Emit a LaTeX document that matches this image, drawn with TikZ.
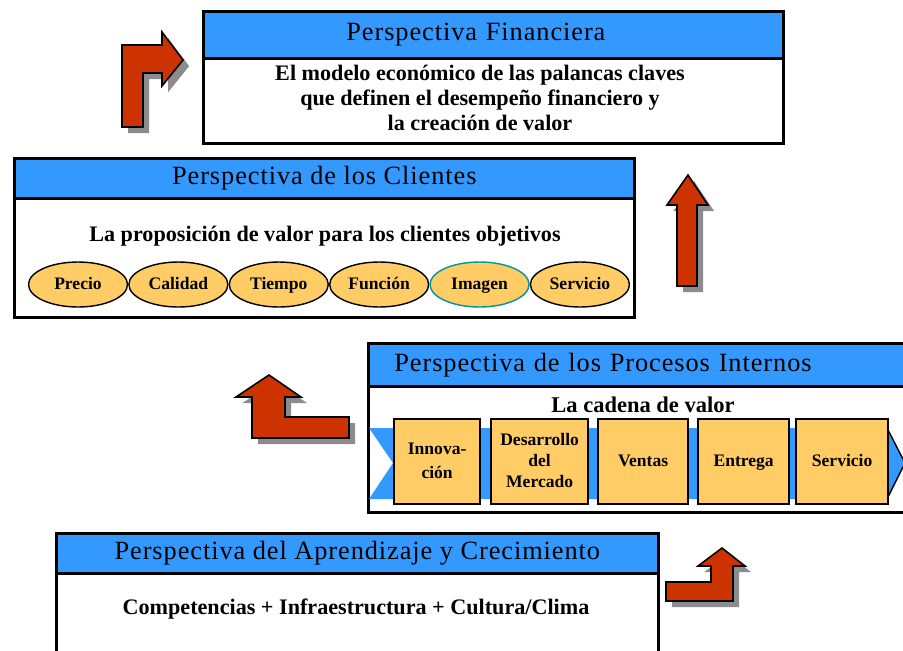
\documentclass[tikz,border=0pt]{standalone}
\usepackage{fontspec}
\setmainfont{Liberation Serif}
\newfontfamily\titlefont[LetterSpace=3.5]{Liberation Serif}
\usepackage{tikz}
\usetikzlibrary{positioning, shapes.geometric, shadows}

\definecolor{headblue}{RGB}{51,153,255}
\definecolor{ellfill}{RGB}{255,204,102}
\definecolor{arrowred}{RGB}{204,51,0}
\definecolor{tealline}{RGB}{0,150,150}

\begin{document}
\begin{tikzpicture}[
  x=0.02cm, y=-0.02cm,
  header/.style={rectangle, draw, line width=1.6pt, fill=headblue, anchor=north west,
                 inner sep=0pt, font=\titlefont\fontsize{15}{18}\selectfont},
  body/.style={rectangle, draw, line width=1.6pt, fill=white, anchor=north west, inner sep=0pt},
  bodytext/.style={align=center, font=\fontsize{12.6}{14.2}\selectfont\bfseries},
  value/.style={ellipse, draw, line width=0.8pt, fill=ellfill, minimum width=1.98cm, minimum height=0.9cm,
                inner sep=0pt, text depth=0.25ex, font=\fontsize{10}{11}\selectfont\bfseries},
  chainbox/.style={rectangle, draw, line width=1.3pt, fill=ellfill, minimum height=1.7cm,
                   inner sep=0pt, text depth=0.25ex, align=center,
                   font=\fontsize{10}{12}\selectfont\bfseries},
  blockarrow/.style={fill=arrowred, draw=black, line width=0.9pt,
                     drop shadow={shadow xshift=3.5pt, shadow yshift=-3.5pt, fill=black!45, opacity=1}},
]
  \useasboundingbox (0,0) rectangle (903,650);
  \clip (0,0) rectangle (903,650);

  % financiera
  \node[body, minimum width=11.6cm, minimum height=1.7cm] (finbody) at (202,57) {};
  \node[header, minimum width=11.6cm, minimum height=0.94cm, text width=5.88cm, inner xsep=2.86cm,
        align=left] (finhead) at (202,10) {Perspectiva Financiera};
  \node[bodytext] (fintext) at (480,98) {El modelo económico de las palancas claves\\que definen el desempeño financiero y\\la creación de valor};

  % clientes
  \node[body, minimum width=12.4cm, minimum height=2.38cm] (clibody) at (13,197) {};
  \node[header, minimum width=12.4cm, minimum height=0.8cm] (clihead) at (13,157) {Perspectiva de los Clientes};
  \node[bodytext] (clitext) at (325,236) {La proposición de valor para los clientes objetivos};
  \node[value] (precio) at (78,284.5) {Precio};
  \node[value, right=0cm of precio] (calidad) {Calidad};
  \node[value, right=0cm of calidad] (tiempo) {Tiempo};
  \node[value, right=0cm of tiempo] (funcion) {Función};
  \node[value, right=0cm of funcion, draw=tealline] (imagen) {Imagen};
  \node[value, right=0cm of imagen] (servcli) {Servicio};

  % procesos internos
  \node[body, minimum width=11.2cm, minimum height=2.52cm] (probody) at (367,385) {};
  \node[header, minimum width=11.2cm, minimum height=0.86cm, text width=10.7cm, inner xsep=0.52cm,
        align=left] (prohead) at (367,342) {Perspectiva de los Procesos Internos};
  \node[bodytext, font=\fontsize{12.8}{14}\selectfont\bfseries] (protext) at (643,405) {La cadena de valor};
  \fill[headblue] (369,428) -- (887,428) -- (905,463) -- (887,499) -- (369,499) -- (393,463) -- cycle;
  \draw[line width=0.8pt] (887,428) -- (905,463) -- (887,499);
  \node[chainbox, minimum width=1.72cm, anchor=north west,
        font=\fontsize{10}{13.5}\selectfont\bfseries] (innov) at (393,418) {Innova-\\ción};
  \node[chainbox, minimum width=1.94cm, anchor=north west] (desarr) at (490,418) {Desarrollo\\del\\Mercado};
  \node[chainbox, minimum width=1.8cm, anchor=north west] (ventas) at (597,418) {Ventas};
  \node[chainbox, minimum width=1.82cm, anchor=north west] (entrega) at (697,418) {Entrega};
  \node[chainbox, minimum width=1.84cm, anchor=north west] (servpro) at (795,418) {Servicio};

  % aprendizaje
  \node[body, minimum width=12.04cm, minimum height=2cm] (aprbody) at (55,572) {};
  \node[header, minimum width=12.04cm, minimum height=0.8cm] (aprhead) at (55,532) {Perspectiva del Aprendizaje y Crecimiento};
  \node[bodytext] (aprtext) at (356,609) {Competencias + Infraestructura + Cultura/Clima};

  % flechas
  \path[blockarrow] (122,127) -- (122,45) -- (162,45) -- (162,32) -- (183,60) -- (162,86)
    -- (162,73) -- (143,73) -- (143,127) -- cycle;
  \path[blockarrow] (677,286) -- (677,205) -- (667,205) -- (688,175) -- (708,205) -- (697,205)
    -- (697,286) -- cycle;
  \path[blockarrow] (252,438) -- (252,397) -- (236,397) -- (269,375) -- (301,397) -- (285,397)
    -- (285,417) -- (349,417) -- (349,438) -- cycle;
  \path[blockarrow] (666,601) -- (666,582) -- (711,582) -- (711,566) -- (698,566) -- (722,548)
    -- (745,566) -- (733,566) -- (733,601) -- cycle;
\end{tikzpicture}
\end{document}
